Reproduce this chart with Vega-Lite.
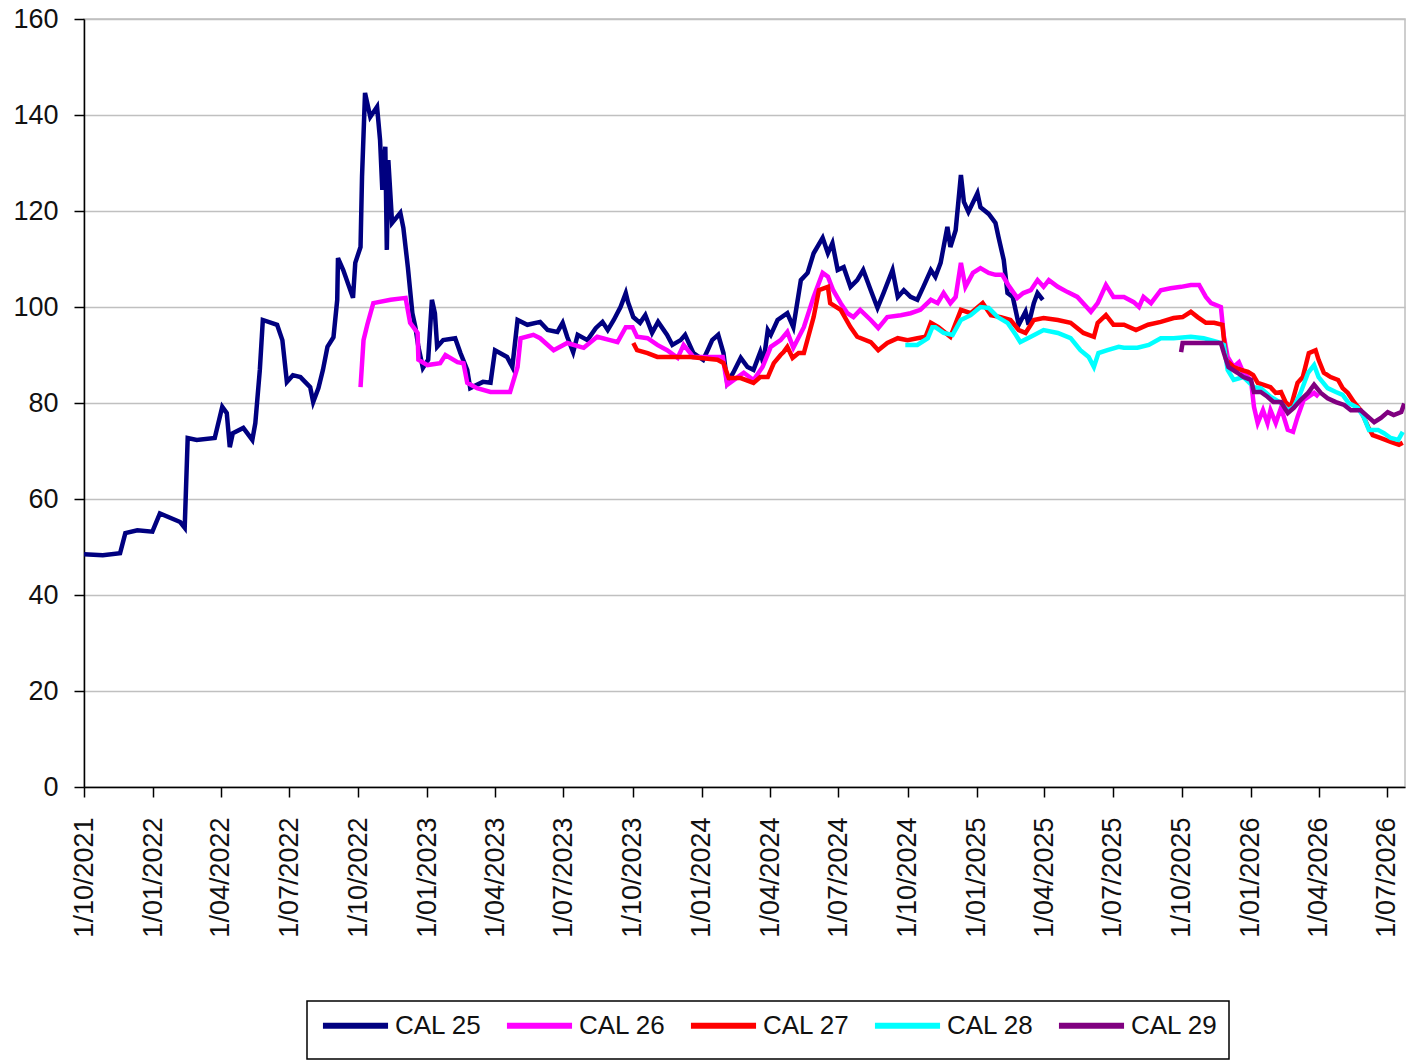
{
  "$schema": "https://vega.github.io/schema/vega-lite/v6.json",
  "description": "CAL 25 to CAL 29 price history, Oct 2021 to Jul 2026",
  "width": 1321,
  "height": 768,
  "autosize": "none",
  "padding": {"left": 84, "top": 19, "right": 18, "bottom": 273},
  "background": "#ffffff",
  "data": {
    "values": [
      {"series": "CAL 25", "date": "2021-10-01", "price": 48.5},
      {"series": "CAL 25", "date": "2021-10-26", "price": 48.3},
      {"series": "CAL 25", "date": "2021-11-18", "price": 48.7},
      {"series": "CAL 25", "date": "2021-11-25", "price": 52.9},
      {"series": "CAL 25", "date": "2021-12-11", "price": 53.5},
      {"series": "CAL 25", "date": "2021-12-31", "price": 53.2},
      {"series": "CAL 25", "date": "2022-01-10", "price": 57.0},
      {"series": "CAL 25", "date": "2022-02-06", "price": 55.2},
      {"series": "CAL 25", "date": "2022-02-12", "price": 54.0},
      {"series": "CAL 25", "date": "2022-02-16", "price": 72.7},
      {"series": "CAL 25", "date": "2022-02-28", "price": 72.3},
      {"series": "CAL 25", "date": "2022-03-24", "price": 72.7},
      {"series": "CAL 25", "date": "2022-04-03", "price": 79.2},
      {"series": "CAL 25", "date": "2022-04-09", "price": 77.9},
      {"series": "CAL 25", "date": "2022-04-13", "price": 70.8},
      {"series": "CAL 25", "date": "2022-04-17", "price": 73.7},
      {"series": "CAL 25", "date": "2022-05-01", "price": 74.8},
      {"series": "CAL 25", "date": "2022-05-13", "price": 72.3},
      {"series": "CAL 25", "date": "2022-05-17", "price": 75.8},
      {"series": "CAL 25", "date": "2022-05-23", "price": 86.9},
      {"series": "CAL 25", "date": "2022-05-27", "price": 97.3},
      {"series": "CAL 25", "date": "2022-06-15", "price": 96.3},
      {"series": "CAL 25", "date": "2022-06-22", "price": 93.1},
      {"series": "CAL 25", "date": "2022-06-28", "price": 84.4},
      {"series": "CAL 25", "date": "2022-07-06", "price": 85.8},
      {"series": "CAL 25", "date": "2022-07-16", "price": 85.4},
      {"series": "CAL 25", "date": "2022-07-29", "price": 83.3},
      {"series": "CAL 25", "date": "2022-08-02", "price": 80.2},
      {"series": "CAL 25", "date": "2022-08-09", "price": 83.1},
      {"series": "CAL 25", "date": "2022-08-15", "price": 86.9},
      {"series": "CAL 25", "date": "2022-08-21", "price": 91.7},
      {"series": "CAL 25", "date": "2022-08-29", "price": 93.7},
      {"series": "CAL 25", "date": "2022-09-03", "price": 101.5},
      {"series": "CAL 25", "date": "2022-09-04", "price": 110.2},
      {"series": "CAL 25", "date": "2022-09-11", "price": 107.7},
      {"series": "CAL 25", "date": "2022-09-24", "price": 101.9},
      {"series": "CAL 25", "date": "2022-09-27", "price": 109.2},
      {"series": "CAL 25", "date": "2022-10-04", "price": 112.5},
      {"series": "CAL 25", "date": "2022-10-06", "price": 127.1},
      {"series": "CAL 25", "date": "2022-10-10", "price": 144.6},
      {"series": "CAL 25", "date": "2022-10-17", "price": 139.6},
      {"series": "CAL 25", "date": "2022-10-26", "price": 141.7},
      {"series": "CAL 25", "date": "2022-10-30", "price": 134.8},
      {"series": "CAL 25", "date": "2022-11-02", "price": 124.4},
      {"series": "CAL 25", "date": "2022-11-06", "price": 133.4},
      {"series": "CAL 25", "date": "2022-11-08", "price": 111.9},
      {"series": "CAL 25", "date": "2022-11-10", "price": 130.6},
      {"series": "CAL 25", "date": "2022-11-15", "price": 117.5},
      {"series": "CAL 25", "date": "2022-11-26", "price": 119.6},
      {"series": "CAL 25", "date": "2022-11-30", "price": 116.5},
      {"series": "CAL 25", "date": "2022-12-06", "price": 108.3},
      {"series": "CAL 25", "date": "2022-12-12", "price": 98.7},
      {"series": "CAL 25", "date": "2022-12-16", "price": 95.8},
      {"series": "CAL 25", "date": "2022-12-20", "price": 91.7},
      {"series": "CAL 25", "date": "2022-12-26", "price": 87.3},
      {"series": "CAL 25", "date": "2023-01-02", "price": 89.0},
      {"series": "CAL 25", "date": "2023-01-07", "price": 101.5},
      {"series": "CAL 25", "date": "2023-01-11", "price": 98.7},
      {"series": "CAL 25", "date": "2023-01-14", "price": 91.7},
      {"series": "CAL 25", "date": "2023-01-22", "price": 93.1},
      {"series": "CAL 25", "date": "2023-02-07", "price": 93.5},
      {"series": "CAL 25", "date": "2023-02-14", "price": 90.4},
      {"series": "CAL 25", "date": "2023-02-23", "price": 86.9},
      {"series": "CAL 25", "date": "2023-02-27", "price": 83.1},
      {"series": "CAL 25", "date": "2023-03-16", "price": 84.4},
      {"series": "CAL 25", "date": "2023-03-26", "price": 84.2},
      {"series": "CAL 25", "date": "2023-04-01", "price": 91.0},
      {"series": "CAL 25", "date": "2023-04-17", "price": 89.6},
      {"series": "CAL 25", "date": "2023-04-24", "price": 87.5},
      {"series": "CAL 25", "date": "2023-05-01", "price": 97.3},
      {"series": "CAL 25", "date": "2023-05-14", "price": 96.3},
      {"series": "CAL 25", "date": "2023-05-31", "price": 96.9},
      {"series": "CAL 25", "date": "2023-06-10", "price": 95.2},
      {"series": "CAL 25", "date": "2023-06-23", "price": 94.8},
      {"series": "CAL 25", "date": "2023-06-30", "price": 96.7},
      {"series": "CAL 25", "date": "2023-07-06", "price": 93.8},
      {"series": "CAL 25", "date": "2023-07-14", "price": 90.6},
      {"series": "CAL 25", "date": "2023-07-20", "price": 94.2},
      {"series": "CAL 25", "date": "2023-08-02", "price": 93.1},
      {"series": "CAL 25", "date": "2023-08-13", "price": 95.6},
      {"series": "CAL 25", "date": "2023-08-22", "price": 96.9},
      {"series": "CAL 25", "date": "2023-08-29", "price": 95.2},
      {"series": "CAL 25", "date": "2023-09-06", "price": 97.3},
      {"series": "CAL 25", "date": "2023-09-15", "price": 100.0},
      {"series": "CAL 25", "date": "2023-09-22", "price": 102.9},
      {"series": "CAL 25", "date": "2023-09-25", "price": 101.0},
      {"series": "CAL 25", "date": "2023-10-02", "price": 97.9},
      {"series": "CAL 25", "date": "2023-10-11", "price": 96.7},
      {"series": "CAL 25", "date": "2023-10-18", "price": 98.3},
      {"series": "CAL 25", "date": "2023-10-27", "price": 94.6},
      {"series": "CAL 25", "date": "2023-11-04", "price": 96.9},
      {"series": "CAL 25", "date": "2023-11-16", "price": 94.2},
      {"series": "CAL 25", "date": "2023-11-23", "price": 92.1},
      {"series": "CAL 25", "date": "2023-12-04", "price": 93.1},
      {"series": "CAL 25", "date": "2023-12-10", "price": 94.2},
      {"series": "CAL 25", "date": "2023-12-21", "price": 90.4},
      {"series": "CAL 25", "date": "2024-01-03", "price": 89.0},
      {"series": "CAL 25", "date": "2024-01-09", "price": 91.0},
      {"series": "CAL 25", "date": "2024-01-15", "price": 93.1},
      {"series": "CAL 25", "date": "2024-01-23", "price": 94.2},
      {"series": "CAL 25", "date": "2024-01-30", "price": 90.4},
      {"series": "CAL 25", "date": "2024-02-04", "price": 84.2},
      {"series": "CAL 25", "date": "2024-02-12", "price": 86.3},
      {"series": "CAL 25", "date": "2024-02-22", "price": 89.4},
      {"series": "CAL 25", "date": "2024-03-02", "price": 87.5},
      {"series": "CAL 25", "date": "2024-03-10", "price": 86.9},
      {"series": "CAL 25", "date": "2024-03-19", "price": 90.6},
      {"series": "CAL 25", "date": "2024-03-23", "price": 88.3},
      {"series": "CAL 25", "date": "2024-03-29", "price": 95.2},
      {"series": "CAL 25", "date": "2024-04-02", "price": 94.2},
      {"series": "CAL 25", "date": "2024-04-11", "price": 97.3},
      {"series": "CAL 25", "date": "2024-04-24", "price": 98.7},
      {"series": "CAL 25", "date": "2024-05-02", "price": 95.8},
      {"series": "CAL 25", "date": "2024-05-12", "price": 105.6},
      {"series": "CAL 25", "date": "2024-05-21", "price": 107.1},
      {"series": "CAL 25", "date": "2024-05-29", "price": 111.2},
      {"series": "CAL 25", "date": "2024-06-10", "price": 114.4},
      {"series": "CAL 25", "date": "2024-06-17", "price": 111.2},
      {"series": "CAL 25", "date": "2024-06-23", "price": 113.3},
      {"series": "CAL 25", "date": "2024-06-30", "price": 107.7},
      {"series": "CAL 25", "date": "2024-07-08", "price": 108.3},
      {"series": "CAL 25", "date": "2024-07-17", "price": 104.2},
      {"series": "CAL 25", "date": "2024-07-26", "price": 105.6},
      {"series": "CAL 25", "date": "2024-08-03", "price": 107.7},
      {"series": "CAL 25", "date": "2024-08-13", "price": 103.5},
      {"series": "CAL 25", "date": "2024-08-22", "price": 99.8},
      {"series": "CAL 25", "date": "2024-08-30", "price": 102.9},
      {"series": "CAL 25", "date": "2024-09-11", "price": 107.7},
      {"series": "CAL 25", "date": "2024-09-18", "price": 102.1},
      {"series": "CAL 25", "date": "2024-09-26", "price": 103.5},
      {"series": "CAL 25", "date": "2024-10-05", "price": 102.1},
      {"series": "CAL 25", "date": "2024-10-14", "price": 101.5},
      {"series": "CAL 25", "date": "2024-10-22", "price": 104.2},
      {"series": "CAL 25", "date": "2024-11-01", "price": 107.7},
      {"series": "CAL 25", "date": "2024-11-07", "price": 106.3},
      {"series": "CAL 25", "date": "2024-11-14", "price": 109.2},
      {"series": "CAL 25", "date": "2024-11-23", "price": 116.7},
      {"series": "CAL 25", "date": "2024-11-27", "price": 112.5},
      {"series": "CAL 25", "date": "2024-12-04", "price": 116.0},
      {"series": "CAL 25", "date": "2024-12-11", "price": 127.5},
      {"series": "CAL 25", "date": "2024-12-15", "price": 121.9},
      {"series": "CAL 25", "date": "2024-12-21", "price": 119.8},
      {"series": "CAL 25", "date": "2025-01-02", "price": 123.7},
      {"series": "CAL 25", "date": "2025-01-06", "price": 120.8},
      {"series": "CAL 25", "date": "2025-01-17", "price": 119.4},
      {"series": "CAL 25", "date": "2025-01-26", "price": 117.5},
      {"series": "CAL 25", "date": "2025-01-30", "price": 114.6},
      {"series": "CAL 25", "date": "2025-02-06", "price": 109.8},
      {"series": "CAL 25", "date": "2025-02-11", "price": 102.9},
      {"series": "CAL 25", "date": "2025-02-18", "price": 102.1},
      {"series": "CAL 25", "date": "2025-02-26", "price": 96.3},
      {"series": "CAL 25", "date": "2025-03-07", "price": 99.0},
      {"series": "CAL 25", "date": "2025-03-11", "price": 96.3},
      {"series": "CAL 25", "date": "2025-03-18", "price": 100.8},
      {"series": "CAL 25", "date": "2025-03-23", "price": 102.9},
      {"series": "CAL 25", "date": "2025-03-30", "price": 101.5},

      {"series": "CAL 26", "date": "2022-10-04", "price": 83.3},
      {"series": "CAL 26", "date": "2022-10-08", "price": 93.1},
      {"series": "CAL 26", "date": "2022-10-13", "price": 96.3},
      {"series": "CAL 26", "date": "2022-10-21", "price": 100.8},
      {"series": "CAL 26", "date": "2022-11-13", "price": 101.5},
      {"series": "CAL 26", "date": "2022-12-03", "price": 101.9},
      {"series": "CAL 26", "date": "2022-12-09", "price": 96.7},
      {"series": "CAL 26", "date": "2022-12-19", "price": 94.6},
      {"series": "CAL 26", "date": "2022-12-20", "price": 89.0},
      {"series": "CAL 26", "date": "2023-01-01", "price": 87.9},
      {"series": "CAL 26", "date": "2023-01-18", "price": 88.3},
      {"series": "CAL 26", "date": "2023-01-25", "price": 90.0},
      {"series": "CAL 26", "date": "2023-02-10", "price": 88.5},
      {"series": "CAL 26", "date": "2023-02-18", "price": 88.3},
      {"series": "CAL 26", "date": "2023-02-23", "price": 84.2},
      {"series": "CAL 26", "date": "2023-03-08", "price": 83.1},
      {"series": "CAL 26", "date": "2023-03-26", "price": 82.3},
      {"series": "CAL 26", "date": "2023-04-21", "price": 82.3},
      {"series": "CAL 26", "date": "2023-05-01", "price": 87.5},
      {"series": "CAL 26", "date": "2023-05-05", "price": 93.5},
      {"series": "CAL 26", "date": "2023-05-22", "price": 94.2},
      {"series": "CAL 26", "date": "2023-05-31", "price": 93.5},
      {"series": "CAL 26", "date": "2023-06-18", "price": 91.0},
      {"series": "CAL 26", "date": "2023-07-06", "price": 92.5},
      {"series": "CAL 26", "date": "2023-07-28", "price": 91.5},
      {"series": "CAL 26", "date": "2023-08-15", "price": 93.8},
      {"series": "CAL 26", "date": "2023-09-01", "price": 93.1},
      {"series": "CAL 26", "date": "2023-09-11", "price": 92.7},
      {"series": "CAL 26", "date": "2023-09-22", "price": 95.8},
      {"series": "CAL 26", "date": "2023-10-01", "price": 95.8},
      {"series": "CAL 26", "date": "2023-10-07", "price": 93.8},
      {"series": "CAL 26", "date": "2023-10-21", "price": 93.5},
      {"series": "CAL 26", "date": "2023-11-03", "price": 92.1},
      {"series": "CAL 26", "date": "2023-11-16", "price": 91.0},
      {"series": "CAL 26", "date": "2023-11-30", "price": 89.4},
      {"series": "CAL 26", "date": "2023-12-08", "price": 92.1},
      {"series": "CAL 26", "date": "2023-12-21", "price": 89.6},
      {"series": "CAL 26", "date": "2024-01-17", "price": 89.6},
      {"series": "CAL 26", "date": "2024-01-29", "price": 89.6},
      {"series": "CAL 26", "date": "2024-02-04", "price": 83.8},
      {"series": "CAL 26", "date": "2024-02-18", "price": 85.4},
      {"series": "CAL 26", "date": "2024-02-26", "price": 86.3},
      {"series": "CAL 26", "date": "2024-03-10", "price": 84.8},
      {"series": "CAL 26", "date": "2024-03-22", "price": 87.5},
      {"series": "CAL 26", "date": "2024-04-02", "price": 91.7},
      {"series": "CAL 26", "date": "2024-04-15", "price": 93.1},
      {"series": "CAL 26", "date": "2024-04-24", "price": 94.8},
      {"series": "CAL 26", "date": "2024-05-02", "price": 91.5},
      {"series": "CAL 26", "date": "2024-05-16", "price": 95.8},
      {"series": "CAL 26", "date": "2024-05-29", "price": 102.1},
      {"series": "CAL 26", "date": "2024-06-10", "price": 107.1},
      {"series": "CAL 26", "date": "2024-06-17", "price": 106.3},
      {"series": "CAL 26", "date": "2024-06-24", "price": 103.5},
      {"series": "CAL 26", "date": "2024-07-04", "price": 100.8},
      {"series": "CAL 26", "date": "2024-07-13", "price": 98.7},
      {"series": "CAL 26", "date": "2024-07-21", "price": 97.9},
      {"series": "CAL 26", "date": "2024-07-30", "price": 99.4},
      {"series": "CAL 26", "date": "2024-08-13", "price": 97.3},
      {"series": "CAL 26", "date": "2024-08-23", "price": 95.6},
      {"series": "CAL 26", "date": "2024-09-04", "price": 97.9},
      {"series": "CAL 26", "date": "2024-09-22", "price": 98.3},
      {"series": "CAL 26", "date": "2024-10-05", "price": 98.7},
      {"series": "CAL 26", "date": "2024-10-18", "price": 99.4},
      {"series": "CAL 26", "date": "2024-11-01", "price": 101.5},
      {"series": "CAL 26", "date": "2024-11-10", "price": 100.8},
      {"series": "CAL 26", "date": "2024-11-18", "price": 102.9},
      {"series": "CAL 26", "date": "2024-11-27", "price": 100.8},
      {"series": "CAL 26", "date": "2024-12-04", "price": 102.1},
      {"series": "CAL 26", "date": "2024-12-11", "price": 109.2},
      {"series": "CAL 26", "date": "2024-12-17", "price": 104.2},
      {"series": "CAL 26", "date": "2024-12-27", "price": 107.1},
      {"series": "CAL 26", "date": "2025-01-06", "price": 108.1},
      {"series": "CAL 26", "date": "2025-01-17", "price": 107.1},
      {"series": "CAL 26", "date": "2025-01-26", "price": 106.7},
      {"series": "CAL 26", "date": "2025-02-04", "price": 106.7},
      {"series": "CAL 26", "date": "2025-02-12", "price": 104.6},
      {"series": "CAL 26", "date": "2025-02-24", "price": 101.9},
      {"series": "CAL 26", "date": "2025-03-04", "price": 102.9},
      {"series": "CAL 26", "date": "2025-03-14", "price": 103.5},
      {"series": "CAL 26", "date": "2025-03-23", "price": 105.6},
      {"series": "CAL 26", "date": "2025-03-31", "price": 104.2},
      {"series": "CAL 26", "date": "2025-04-07", "price": 105.6},
      {"series": "CAL 26", "date": "2025-04-19", "price": 104.2},
      {"series": "CAL 26", "date": "2025-05-02", "price": 103.1},
      {"series": "CAL 26", "date": "2025-05-15", "price": 102.1},
      {"series": "CAL 26", "date": "2025-06-02", "price": 99.0},
      {"series": "CAL 26", "date": "2025-06-11", "price": 100.8},
      {"series": "CAL 26", "date": "2025-06-22", "price": 104.6},
      {"series": "CAL 26", "date": "2025-07-02", "price": 102.1},
      {"series": "CAL 26", "date": "2025-07-16", "price": 102.1},
      {"series": "CAL 26", "date": "2025-07-29", "price": 101.0},
      {"series": "CAL 26", "date": "2025-08-05", "price": 100.0},
      {"series": "CAL 26", "date": "2025-08-11", "price": 102.1},
      {"series": "CAL 26", "date": "2025-08-21", "price": 100.8},
      {"series": "CAL 26", "date": "2025-09-03", "price": 103.5},
      {"series": "CAL 26", "date": "2025-09-16", "price": 103.9},
      {"series": "CAL 26", "date": "2025-09-30", "price": 104.2},
      {"series": "CAL 26", "date": "2025-10-13", "price": 104.6},
      {"series": "CAL 26", "date": "2025-10-24", "price": 104.6},
      {"series": "CAL 26", "date": "2025-11-02", "price": 102.1},
      {"series": "CAL 26", "date": "2025-11-09", "price": 100.8},
      {"series": "CAL 26", "date": "2025-11-22", "price": 100.0},
      {"series": "CAL 26", "date": "2025-11-26", "price": 93.8},
      {"series": "CAL 26", "date": "2025-12-01", "price": 89.6},
      {"series": "CAL 26", "date": "2025-12-09", "price": 87.5},
      {"series": "CAL 26", "date": "2025-12-16", "price": 88.5},
      {"series": "CAL 26", "date": "2025-12-22", "price": 86.3},
      {"series": "CAL 26", "date": "2026-01-01", "price": 84.8},
      {"series": "CAL 26", "date": "2026-01-05", "price": 79.2},
      {"series": "CAL 26", "date": "2026-01-10", "price": 75.8},
      {"series": "CAL 26", "date": "2026-01-17", "price": 78.5},
      {"series": "CAL 26", "date": "2026-01-23", "price": 75.8},
      {"series": "CAL 26", "date": "2026-01-27", "price": 78.5},
      {"series": "CAL 26", "date": "2026-02-03", "price": 75.8},
      {"series": "CAL 26", "date": "2026-02-10", "price": 79.0},
      {"series": "CAL 26", "date": "2026-02-19", "price": 74.4},
      {"series": "CAL 26", "date": "2026-02-26", "price": 74.0},
      {"series": "CAL 26", "date": "2026-03-04", "price": 77.1},
      {"series": "CAL 26", "date": "2026-03-12", "price": 80.6},
      {"series": "CAL 26", "date": "2026-03-26", "price": 82.1},
      {"series": "CAL 26", "date": "2026-04-01", "price": 81.3},

      {"series": "CAL 27", "date": "2023-10-02", "price": 92.5},
      {"series": "CAL 27", "date": "2023-10-07", "price": 91.0},
      {"series": "CAL 27", "date": "2023-10-21", "price": 90.4},
      {"series": "CAL 27", "date": "2023-11-03", "price": 89.6},
      {"series": "CAL 27", "date": "2023-12-17", "price": 89.6},
      {"series": "CAL 27", "date": "2024-01-22", "price": 89.0},
      {"series": "CAL 27", "date": "2024-01-30", "price": 88.3},
      {"series": "CAL 27", "date": "2024-02-06", "price": 85.2},
      {"series": "CAL 27", "date": "2024-02-22", "price": 85.2},
      {"series": "CAL 27", "date": "2024-03-10", "price": 84.2},
      {"series": "CAL 27", "date": "2024-03-19", "price": 85.4},
      {"series": "CAL 27", "date": "2024-03-29", "price": 85.4},
      {"series": "CAL 27", "date": "2024-04-06", "price": 88.3},
      {"series": "CAL 27", "date": "2024-04-15", "price": 90.0},
      {"series": "CAL 27", "date": "2024-04-19", "price": 90.6},
      {"series": "CAL 27", "date": "2024-04-24", "price": 91.7},
      {"series": "CAL 27", "date": "2024-05-01", "price": 89.4},
      {"series": "CAL 27", "date": "2024-05-09", "price": 90.4},
      {"series": "CAL 27", "date": "2024-05-16", "price": 90.4},
      {"series": "CAL 27", "date": "2024-05-29", "price": 97.9},
      {"series": "CAL 27", "date": "2024-06-05", "price": 103.5},
      {"series": "CAL 27", "date": "2024-06-17", "price": 104.2},
      {"series": "CAL 27", "date": "2024-06-20", "price": 100.8},
      {"series": "CAL 27", "date": "2024-07-04", "price": 99.4},
      {"series": "CAL 27", "date": "2024-07-17", "price": 95.8},
      {"series": "CAL 27", "date": "2024-07-26", "price": 93.8},
      {"series": "CAL 27", "date": "2024-08-13", "price": 92.7},
      {"series": "CAL 27", "date": "2024-08-23", "price": 91.0},
      {"series": "CAL 27", "date": "2024-09-04", "price": 92.5},
      {"series": "CAL 27", "date": "2024-09-18", "price": 93.5},
      {"series": "CAL 27", "date": "2024-10-01", "price": 93.1},
      {"series": "CAL 27", "date": "2024-10-14", "price": 93.5},
      {"series": "CAL 27", "date": "2024-10-25", "price": 93.8},
      {"series": "CAL 27", "date": "2024-11-01", "price": 96.7},
      {"series": "CAL 27", "date": "2024-11-11", "price": 95.8},
      {"series": "CAL 27", "date": "2024-11-27", "price": 93.8},
      {"series": "CAL 27", "date": "2024-12-11", "price": 99.4},
      {"series": "CAL 27", "date": "2024-12-24", "price": 98.7},
      {"series": "CAL 27", "date": "2025-01-09", "price": 100.8},
      {"series": "CAL 27", "date": "2025-01-20", "price": 98.3},
      {"series": "CAL 27", "date": "2025-02-02", "price": 97.9},
      {"series": "CAL 27", "date": "2025-02-15", "price": 97.3},
      {"series": "CAL 27", "date": "2025-02-26", "price": 95.2},
      {"series": "CAL 27", "date": "2025-03-07", "price": 94.6},
      {"series": "CAL 27", "date": "2025-03-18", "price": 97.3},
      {"series": "CAL 27", "date": "2025-03-31", "price": 97.7},
      {"series": "CAL 27", "date": "2025-04-19", "price": 97.3},
      {"series": "CAL 27", "date": "2025-05-06", "price": 96.7},
      {"series": "CAL 27", "date": "2025-05-23", "price": 94.6},
      {"series": "CAL 27", "date": "2025-06-06", "price": 93.8},
      {"series": "CAL 27", "date": "2025-06-11", "price": 96.7},
      {"series": "CAL 27", "date": "2025-06-22", "price": 98.3},
      {"series": "CAL 27", "date": "2025-07-02", "price": 96.3},
      {"series": "CAL 27", "date": "2025-07-16", "price": 96.3},
      {"series": "CAL 27", "date": "2025-08-01", "price": 95.2},
      {"series": "CAL 27", "date": "2025-08-17", "price": 96.3},
      {"series": "CAL 27", "date": "2025-09-03", "price": 96.9},
      {"series": "CAL 27", "date": "2025-09-20", "price": 97.7},
      {"series": "CAL 27", "date": "2025-10-02", "price": 97.9},
      {"series": "CAL 27", "date": "2025-10-13", "price": 99.0},
      {"series": "CAL 27", "date": "2025-10-22", "price": 97.9},
      {"series": "CAL 27", "date": "2025-11-02", "price": 96.7},
      {"series": "CAL 27", "date": "2025-11-13", "price": 96.7},
      {"series": "CAL 27", "date": "2025-11-24", "price": 96.3},
      {"series": "CAL 27", "date": "2025-11-29", "price": 89.0},
      {"series": "CAL 27", "date": "2025-12-09", "price": 87.5},
      {"series": "CAL 27", "date": "2025-12-19", "price": 86.9},
      {"series": "CAL 27", "date": "2025-12-28", "price": 86.5},
      {"series": "CAL 27", "date": "2026-01-04", "price": 85.8},
      {"series": "CAL 27", "date": "2026-01-10", "price": 84.2},
      {"series": "CAL 27", "date": "2026-01-18", "price": 83.8},
      {"series": "CAL 27", "date": "2026-01-27", "price": 83.3},
      {"series": "CAL 27", "date": "2026-02-03", "price": 82.1},
      {"series": "CAL 27", "date": "2026-02-10", "price": 82.3},
      {"series": "CAL 27", "date": "2026-02-16", "price": 80.2},
      {"series": "CAL 27", "date": "2026-02-23", "price": 79.2},
      {"series": "CAL 27", "date": "2026-03-04", "price": 84.2},
      {"series": "CAL 27", "date": "2026-03-11", "price": 85.4},
      {"series": "CAL 27", "date": "2026-03-19", "price": 90.4},
      {"series": "CAL 27", "date": "2026-03-28", "price": 91.0},
      {"series": "CAL 27", "date": "2026-04-01", "price": 89.0},
      {"series": "CAL 27", "date": "2026-04-08", "price": 86.3},
      {"series": "CAL 27", "date": "2026-04-17", "price": 85.4},
      {"series": "CAL 27", "date": "2026-04-27", "price": 84.8},
      {"series": "CAL 27", "date": "2026-05-03", "price": 83.1},
      {"series": "CAL 27", "date": "2026-05-10", "price": 82.1},
      {"series": "CAL 27", "date": "2026-05-18", "price": 80.2},
      {"series": "CAL 27", "date": "2026-05-27", "price": 78.5},
      {"series": "CAL 27", "date": "2026-06-06", "price": 75.0},
      {"series": "CAL 27", "date": "2026-06-12", "price": 73.3},
      {"series": "CAL 27", "date": "2026-06-23", "price": 72.7},
      {"series": "CAL 27", "date": "2026-07-06", "price": 71.9},
      {"series": "CAL 27", "date": "2026-07-17", "price": 71.3},
      {"series": "CAL 27", "date": "2026-07-22", "price": 71.7},

      {"series": "CAL 28", "date": "2024-09-28", "price": 92.1},
      {"series": "CAL 28", "date": "2024-10-14", "price": 92.1},
      {"series": "CAL 28", "date": "2024-10-28", "price": 93.5},
      {"series": "CAL 28", "date": "2024-11-03", "price": 95.8},
      {"series": "CAL 28", "date": "2024-11-07", "price": 95.8},
      {"series": "CAL 28", "date": "2024-11-18", "price": 94.6},
      {"series": "CAL 28", "date": "2024-11-30", "price": 94.2},
      {"series": "CAL 28", "date": "2024-12-11", "price": 97.3},
      {"series": "CAL 28", "date": "2024-12-24", "price": 98.3},
      {"series": "CAL 28", "date": "2025-01-06", "price": 100.0},
      {"series": "CAL 28", "date": "2025-01-17", "price": 99.8},
      {"series": "CAL 28", "date": "2025-01-29", "price": 97.9},
      {"series": "CAL 28", "date": "2025-02-11", "price": 96.7},
      {"series": "CAL 28", "date": "2025-02-22", "price": 94.2},
      {"series": "CAL 28", "date": "2025-02-28", "price": 92.7},
      {"series": "CAL 28", "date": "2025-03-14", "price": 93.8},
      {"series": "CAL 28", "date": "2025-03-31", "price": 95.2},
      {"series": "CAL 28", "date": "2025-04-19", "price": 94.6},
      {"series": "CAL 28", "date": "2025-05-06", "price": 93.5},
      {"series": "CAL 28", "date": "2025-05-19", "price": 91.0},
      {"series": "CAL 28", "date": "2025-05-30", "price": 89.6},
      {"series": "CAL 28", "date": "2025-06-06", "price": 87.5},
      {"series": "CAL 28", "date": "2025-06-12", "price": 90.4},
      {"series": "CAL 28", "date": "2025-06-24", "price": 91.0},
      {"series": "CAL 28", "date": "2025-07-09", "price": 91.7},
      {"series": "CAL 28", "date": "2025-07-16", "price": 91.5},
      {"series": "CAL 28", "date": "2025-08-03", "price": 91.5},
      {"series": "CAL 28", "date": "2025-08-18", "price": 92.1},
      {"series": "CAL 28", "date": "2025-09-03", "price": 93.5},
      {"series": "CAL 28", "date": "2025-09-20", "price": 93.5},
      {"series": "CAL 28", "date": "2025-10-13", "price": 93.8},
      {"series": "CAL 28", "date": "2025-10-30", "price": 93.5},
      {"series": "CAL 28", "date": "2025-11-18", "price": 92.7},
      {"series": "CAL 28", "date": "2025-11-26", "price": 92.1},
      {"series": "CAL 28", "date": "2025-12-01", "price": 86.9},
      {"series": "CAL 28", "date": "2025-12-09", "price": 84.8},
      {"series": "CAL 28", "date": "2025-12-22", "price": 85.4},
      {"series": "CAL 28", "date": "2026-01-05", "price": 83.3},
      {"series": "CAL 28", "date": "2026-01-14", "price": 83.1},
      {"series": "CAL 28", "date": "2026-01-27", "price": 81.3},
      {"series": "CAL 28", "date": "2026-02-10", "price": 80.0},
      {"series": "CAL 28", "date": "2026-02-19", "price": 78.5},
      {"series": "CAL 28", "date": "2026-02-27", "price": 79.2},
      {"series": "CAL 28", "date": "2026-03-08", "price": 82.1},
      {"series": "CAL 28", "date": "2026-03-18", "price": 86.3},
      {"series": "CAL 28", "date": "2026-03-26", "price": 87.9},
      {"series": "CAL 28", "date": "2026-04-01", "price": 85.4},
      {"series": "CAL 28", "date": "2026-04-13", "price": 83.1},
      {"series": "CAL 28", "date": "2026-04-24", "price": 82.3},
      {"series": "CAL 28", "date": "2026-05-03", "price": 81.7},
      {"series": "CAL 28", "date": "2026-05-11", "price": 80.0},
      {"series": "CAL 28", "date": "2026-05-23", "price": 79.0},
      {"series": "CAL 28", "date": "2026-05-31", "price": 77.1},
      {"series": "CAL 28", "date": "2026-06-07", "price": 74.4},
      {"series": "CAL 28", "date": "2026-06-19", "price": 74.4},
      {"series": "CAL 28", "date": "2026-06-27", "price": 73.7},
      {"series": "CAL 28", "date": "2026-07-06", "price": 72.7},
      {"series": "CAL 28", "date": "2026-07-16", "price": 72.3},
      {"series": "CAL 28", "date": "2026-07-22", "price": 74.0},

      {"series": "CAL 29", "date": "2025-09-30", "price": 90.6},
      {"series": "CAL 29", "date": "2025-10-02", "price": 92.5},
      {"series": "CAL 29", "date": "2025-11-22", "price": 92.5},
      {"series": "CAL 29", "date": "2025-11-26", "price": 90.4},
      {"series": "CAL 29", "date": "2025-12-02", "price": 87.5},
      {"series": "CAL 29", "date": "2025-12-14", "price": 86.3},
      {"series": "CAL 29", "date": "2025-12-22", "price": 85.4},
      {"series": "CAL 29", "date": "2026-01-01", "price": 84.8},
      {"series": "CAL 29", "date": "2026-01-05", "price": 82.3},
      {"series": "CAL 29", "date": "2026-01-14", "price": 82.3},
      {"series": "CAL 29", "date": "2026-01-23", "price": 81.3},
      {"series": "CAL 29", "date": "2026-01-31", "price": 80.2},
      {"series": "CAL 29", "date": "2026-02-10", "price": 80.2},
      {"series": "CAL 29", "date": "2026-02-19", "price": 77.9},
      {"series": "CAL 29", "date": "2026-02-27", "price": 79.0},
      {"series": "CAL 29", "date": "2026-03-08", "price": 80.6},
      {"series": "CAL 29", "date": "2026-03-18", "price": 82.1},
      {"series": "CAL 29", "date": "2026-03-26", "price": 83.8},
      {"series": "CAL 29", "date": "2026-04-04", "price": 82.1},
      {"series": "CAL 29", "date": "2026-04-13", "price": 81.0},
      {"series": "CAL 29", "date": "2026-04-24", "price": 80.2},
      {"series": "CAL 29", "date": "2026-05-05", "price": 79.6},
      {"series": "CAL 29", "date": "2026-05-14", "price": 78.5},
      {"series": "CAL 29", "date": "2026-05-27", "price": 78.5},
      {"series": "CAL 29", "date": "2026-06-06", "price": 77.1},
      {"series": "CAL 29", "date": "2026-06-14", "price": 76.0},
      {"series": "CAL 29", "date": "2026-06-23", "price": 76.9},
      {"series": "CAL 29", "date": "2026-07-02", "price": 78.1},
      {"series": "CAL 29", "date": "2026-07-10", "price": 77.5},
      {"series": "CAL 29", "date": "2026-07-20", "price": 78.1},
      {"series": "CAL 29", "date": "2026-07-24", "price": 79.9}
    ]
  },
  "mark": {"type": "line", "strokeWidth": 4.5, "strokeJoin": "miter", "clip": true},
  "encoding": {
    "x": {
      "field": "date",
      "type": "temporal",
      "title": null,
      "scale": {"type": "utc", "domain": ["2021-10-01", "2026-07-25"]},
      "axis": {
        "format": "%-d/%m/%Y",
        "tickCount": {"interval": "month", "step": 3},
        "labelAngle": 270,
        "labelPadding": 20,
        "tickSize": 10,
        "grid": false,
        "labelFlush": false,
        "labelOverlap": false
      }
    },
    "y": {
      "field": "price",
      "type": "quantitative",
      "title": null,
      "scale": {"domain": [0, 160], "nice": false},
      "axis": {
        "values": [0, 20, 40, 60, 80, 100, 120, 140, 160],
        "tickSize": 10,
        "labelPadding": 16,
        "grid": true
      }
    },
    "color": {
      "field": "series",
      "type": "nominal",
      "scale": {
        "domain": ["CAL 25", "CAL 26", "CAL 27", "CAL 28", "CAL 29"],
        "range": ["#000080", "#ff00ff", "#ff0000", "#00ffff", "#800080"]
      },
      "legend": {
        "title": " ",
        "titleOrient": "bottom",
        "titlePadding": 3,
        "titleFontSize": 6,
        "orient": "none",
        "legendX": 223,
        "legendY": 982,
        "direction": "horizontal",
        "symbolType": "M-3.1,0H3.1",
        "symbolSize": 441,
        "symbolStrokeWidth": 6,
        "symbolOffset": 24,
        "labelFontSize": 26,
        "labelOffset": 26,
        "columnPadding": 12,
        "padding": 11,
        "strokeColor": "#000000",
        "fillColor": "#ffffff"
      }
    }
  },
  "config": {
    "font": "Liberation Sans",
    "view": {"stroke": "#bfbfbf", "strokeWidth": 1.5},
    "axis": {
      "labelFont": "Liberation Sans",
      "labelFontSize": 27,
      "labelColor": "#111111",
      "domainColor": "#000000",
      "domainWidth": 1.5,
      "tickColor": "#000000",
      "tickWidth": 1.5,
      "gridColor": "#c0c0c0",
      "gridWidth": 1.5
    },
    "legend": {
      "labelFont": "Liberation Sans",
      "labelColor": "#111111",
      "strokeWidth": 1.5
    }
  }
}
